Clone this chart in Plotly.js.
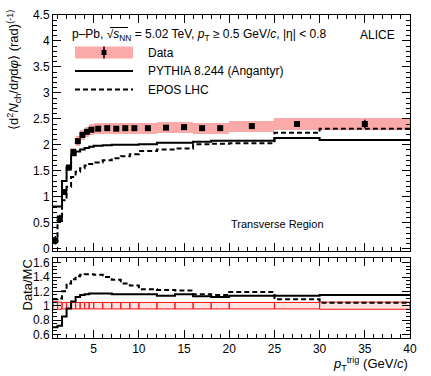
<!DOCTYPE html>
<html><head><meta charset="utf-8">
<script src="https://cdn.plot.ly/plotly-3.0.1.min.js"></script>
<style>html,body{margin:0;padding:0;background:#fff}#chart{width:431px;height:376px}</style>
</head><body><div id="chart"></div>
<script>
// pT trig bins (GeV/c)
const binEdges=[0.5,1,1.5,2,2.5,3,3.5,4,4.5,5,6,7,8,9,10,12,14,16,18,20,25,30,40];
// data, transverse region
const dataVal=[0.16,0.58,1.09,1.56,1.86,2.07,2.19,2.25,2.29,2.31,2.32,2.31,2.32,2.32,2.32,2.33,2.34,2.32,2.32,2.36,2.40,2.40];
const dataStat=[0.08,0.07,0.05,0.04,0.03,0.02,0.02,0.02,0.02,0.02,0.02,0.02,0.02,0.02,0.02,0.02,0.02,0.02,0.02,0.03,0.04,0.08];
const sysRel=[0.055,0.05,0.045,0.045,0.045,0.045,0.045,0.045,0.045,0.045,0.045,0.045,0.045,0.045,0.045,0.045,0.045,0.045,0.045,0.045,0.045,0.05];
// models
const pythiaVal=[0.81,0.81,1.30,1.56,1.80,1.87,1.91,1.94,1.96,1.98,1.99,2.00,2.00,2.00,2.01,2.04,2.04,2.06,2.08,2.08,2.13,2.09];
const eposVal=[0.15,0.53,0.93,1.19,1.38,1.48,1.55,1.60,1.63,1.66,1.70,1.74,1.78,1.82,1.88,1.91,1.93,2.01,2.02,2.03,2.23,2.31];
// data/MC
const ratioPythia=[0.70,0.72,0.85,0.96,1.06,1.12,1.15,1.16,1.17,1.17,1.17,1.16,1.16,1.16,1.16,1.14,1.16,1.13,1.12,1.14,1.14,1.15];
const ratioEpos=[1.09,1.10,1.20,1.31,1.37,1.41,1.43,1.44,1.44,1.43,1.40,1.36,1.31,1.28,1.23,1.22,1.21,1.16,1.15,1.19,1.09,1.04];

const centers=binEdges.slice(0,-1).map((e,i)=>(e+binEdges[i+1])/2);
const widths=binEdges.slice(0,-1).map((e,i)=>binEdges[i+1]-e);
const step=v=>v.concat([v[v.length-1]]);

const FONT='"Liberation Sans", Arial, sans-serif';
const PX0=53, PW=357, PY0=15, PH=323; // plot area in px
const px=x=>(x-PX0)/PW, py=y=>(PY0+PH-y)/PH;

const traces=[
  {type:'bar',x:centers,y:dataVal.map((v,i)=>2*v*sysRel[i]),base:dataVal.map((v,i)=>v*(1-sysRel[i])),width:widths,
   marker:{color:'#fbaaaa',line:{width:0}},xaxis:'x',yaxis:'y',hoverinfo:'skip'},
  {type:'scatter',mode:'lines',x:binEdges,y:step(pythiaVal),line:{shape:'hv',color:'#000',width:2},xaxis:'x',yaxis:'y'},
  {type:'scatter',mode:'lines',x:binEdges,y:step(eposVal),line:{shape:'hv',color:'#000',width:2,dash:'5px,3px'},xaxis:'x',yaxis:'y'},
  {type:'scatter',mode:'markers',x:centers,y:dataVal,error_y:{type:'data',array:dataStat,color:'#000',thickness:1.5,width:0},
   marker:{symbol:'square',size:6,color:'#000'},xaxis:'x',yaxis:'y'},
  // ratio panel
  {type:'bar',x:centers,y:sysRel.map(r=>2*r),base:sysRel.map(r=>1-r),width:widths,
   marker:{color:'rgba(255,120,120,0.2)',line:{color:'#ff1010',width:1}},xaxis:'x2',yaxis:'y2',hoverinfo:'skip'},
  {type:'scatter',mode:'lines',x:binEdges,y:step(ratioPythia),line:{shape:'hv',color:'#000',width:2},xaxis:'x2',yaxis:'y2'},
  {type:'scatter',mode:'lines',x:binEdges,y:step(ratioEpos),line:{shape:'hv',color:'#000',width:2,dash:'5px,3px'},xaxis:'x2',yaxis:'y2'}
];

const axBase={showline:true,linecolor:'#000',linewidth:1,mirror:'allticks',ticks:'inside',ticklen:8,tickwidth:1,tickcolor:'#000',
  showgrid:false,zeroline:false,tickfont:{family:FONT,size:12,color:'#000'}};

const ann=(text,x,y,o)=>Object.assign({text,x,y,xref:'paper',yref:'paper',showarrow:false,xanchor:'left',yanchor:'middle',
  font:{family:FONT,size:12,color:'#000'}},o||{});

const layout={
  width:431,height:376,margin:{l:PX0,r:431-PX0-PW,t:PY0,b:376-PY0-PH},
  paper_bgcolor:'#fff',plot_bgcolor:'#fff',showlegend:false,barmode:'overlay',bargap:0,
  xaxis:Object.assign({},axBase,{anchor:'y',domain:[0,1],range:[0.5,40],dtick:5,tick0:0,showticklabels:false,
    minor:{ticks:'inside',ticklen:4,dtick:1,tick0:0,tickcolor:'#000'}}),
  xaxis2:Object.assign({},axBase,{anchor:'y2',domain:[0,1],range:[0.5,40],dtick:5,tick0:0,
    minor:{ticks:'inside',ticklen:4,dtick:1,tick0:0,tickcolor:'#000'}}),
  yaxis:Object.assign({},axBase,{anchor:'x',domain:[py(251),1],range:[-0.046,4.5],dtick:0.5,tick0:0,
    minor:{ticks:'inside',ticklen:4,dtick:0.1,tick0:0,tickcolor:'#000'}}),
  yaxis2:Object.assign({},axBase,{anchor:'x2',domain:[0,py(258.3)],range:[0.549,1.661],dtick:0.2,tick0:0,
    minor:{ticks:'inside',ticklen:4,dtick:0.05,tick0:0,tickcolor:'#000'}}),
  shapes:[
    // legend keys
    {type:'rect',xref:'paper',yref:'paper',x0:px(75),x1:px(133),y0:py(58.5),y1:py(46.5),fillcolor:'#fbaaaa',line:{width:0}},
    {type:'line',xref:'paper',yref:'paper',x0:px(104),x1:px(104),y0:py(58.5),y1:py(46.5),line:{color:'#000',width:1.5}},
    {type:'rect',xref:'paper',yref:'paper',x0:px(101.5),x1:px(106.5),y0:py(55),y1:py(50),fillcolor:'#000',line:{width:0}},
    {type:'line',xref:'paper',yref:'paper',x0:px(75),x1:px(133),y0:py(71),y1:py(71),line:{color:'#000',width:2}},
    {type:'line',xref:'paper',yref:'paper',x0:px(75),x1:px(133),y0:py(89.5),y1:py(89.5),line:{color:'#000',width:2,dash:'5px,3px'}},
    // overline of the square root
    {type:'line',xref:'paper',yref:'paper',x0:px(110),x1:px(128),y0:py(27.5),y1:py(27.5),line:{color:'#000',width:1}}
  ],
  annotations:[
    ann('p–Pb, √<i>s</i><sub>NN</sub> = 5.02 TeV, <i>p</i><sub>T</sub> ≥ 0.5 GeV/<i>c</i>, |η| &lt; 0.8',px(70),py(35)),
    ann('ALICE',px(397),py(35),{xanchor:'right'}),
    ann('Data',px(146),py(52.5)),
    ann('PYTHIA 8.244 (Angantyr)',px(146),py(71)),
    ann('EPOS LHC',px(146),py(89.5)),
    ann('Transverse Region',px(277.5),py(224),{xanchor:'center',font:{family:FONT,size:11,color:'#000'}}),
    ann('⟨d<sup>2</sup><i>N</i><sub>ch</sub>/d<i>η</i>d<i>φ</i>⟩ (rad)<sup>(-1)</sup>',px(14),py(8),
      {xanchor:'center',yanchor:'top',textangle:-90,font:{family:FONT,size:13,color:'#000'}}),
    ann('Data/MC',px(27),py(258),{xanchor:'center',yanchor:'top',textangle:-90,font:{family:FONT,size:13,color:'#000'}}),
    ann('<i>p</i><sub>T</sub><sup>trig</sup> (GeV/<i>c</i>)',px(410),py(364),{xanchor:'right',font:{family:FONT,size:13,color:'#000'}})
  ]
};

Plotly.newPlot('chart',traces,layout,{displayModeBar:false,staticPlot:true});
</script>
</body></html>
